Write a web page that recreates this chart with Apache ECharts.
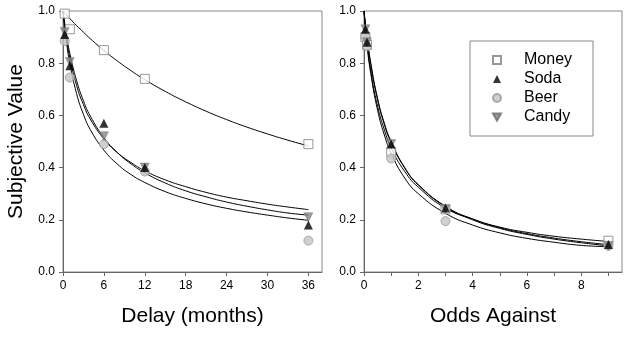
<!DOCTYPE html>
<html>
<head>
<meta charset="utf-8">
<script src="https://cdn.jsdelivr.net/npm/echarts@6/dist/echarts.min.js"></script>
<style>
  html, body { margin: 0; padding: 0; background: #fff; }
  #main { width: 629px; height: 337px; }
</style>
</head>
<body>
<div id="main"></div>
<script>
// delay panel (months) - points
var delayX = [0.25, 1, 6, 12, 36];
var delayMoney = [0.99, 0.93, 0.85, 0.74, 0.49];
var delaySoda = [0.91, 0.79, 0.57, 0.40, 0.18];
var delayBeer = [0.885, 0.745, 0.49, 0.385, 0.12];
var delayCandy = [0.92, 0.805, 0.52, 0.40, 0.21];

// delay panel - fitted curves
var delayFitX = [0, 0.5, 1, 2, 3, 4, 6, 8, 10, 12, 15, 18, 21, 24, 27, 30, 33, 36];
var delayFitMoney = [1, 0.985, 0.971, 0.944, 0.919, 0.894, 0.849, 0.808, 0.771, 0.737, 0.692, 0.652, 0.616, 0.584, 0.555, 0.529, 0.505, 0.483];
var delayFitSoda = [1, 0.897, 0.821, 0.714, 0.641, 0.586, 0.51, 0.457, 0.419, 0.388, 0.353, 0.327, 0.305, 0.287, 0.273, 0.26, 0.249, 0.239];
var delayFitCandy = [1, 0.91, 0.838, 0.733, 0.656, 0.598, 0.515, 0.457, 0.414, 0.38, 0.341, 0.311, 0.288, 0.268, 0.252, 0.238, 0.226, 0.218];
var delayFitBeer = [1, 0.884, 0.80, 0.683, 0.604, 0.546, 0.467, 0.413, 0.373, 0.343, 0.308, 0.282, 0.261, 0.244, 0.23, 0.218, 0.207, 0.198];

// odds panel - points
var oddsX = [0.05, 0.11, 1, 3, 9];
var oddsMoney = [0.90, 0.87, 0.46, 0.24, 0.12];
var oddsSoda = [0.93, 0.88, 0.49, 0.245, 0.105];
var oddsBeer = [0.90, 0.865, 0.435, 0.195, 0.10];
var oddsCandy = [0.93, 0.88, 0.49, 0.24, 0.10];

// odds panel - fitted curves
var oddsFitX = [0, 0.1, 0.25, 0.5, 0.75, 1, 1.5, 2, 3, 4, 5, 6, 7, 8, 9];
var oddsFitMoney = [1, 0.89, 0.77, 0.635, 0.545, 0.475, 0.385, 0.325, 0.245, 0.203, 0.172, 0.152, 0.137, 0.126, 0.117];
var oddsFitSoda = [1, 0.91, 0.80, 0.665, 0.57, 0.50, 0.40, 0.335, 0.252, 0.203, 0.17, 0.147, 0.13, 0.116, 0.105];
var oddsFitBeer = [1, 0.88, 0.76, 0.62, 0.525, 0.455, 0.36, 0.30, 0.225, 0.18, 0.15, 0.129, 0.114, 0.102, 0.097];
var oddsFitCandy = [1, 0.905, 0.795, 0.66, 0.565, 0.495, 0.398, 0.333, 0.25, 0.20, 0.167, 0.144, 0.126, 0.112, 0.10];

var delayTicks = [0, 6, 12, 18, 24, 30, 36];
var oddsTicks = [0, 1, 2, 3, 4, 5, 6, 7, 8, 9];
var oddsLabels = [0, 2, 4, 6, 8];

function pairs(xs, ys) {
    return xs.map(function (x, i) { return [x, ys[i]]; });
}

var font = 'Arial, "Liberation Sans", sans-serif';

var styles = {
    Money: { symbol: 'rect', size: 9, itemStyle: { color: '#ffffff', borderColor: '#808080', borderWidth: 1 } },
    Soda: { symbol: 'triangle', size: 9, itemStyle: { color: '#000000' } },
    Beer: { symbol: 'circle', size: 9, itemStyle: { color: '#c4c4c4', borderColor: '#9a9a9a', borderWidth: 1 } },
    Candy: { symbol: 'path://M0,0 L10,0 L5,9 Z', size: 9, itemStyle: { color: '#858585', borderColor: '#6a6a6a', borderWidth: 0.5 } }
};

function scatter(name, idx, xs, ys) {
    var s = styles[name];
    return {
        name: name,
        type: 'scatter',
        xAxisIndex: idx,
        yAxisIndex: idx,
        symbol: s.symbol,
        symbolSize: s.size,
        itemStyle: s.itemStyle,
        z: 5,
        data: pairs(xs, ys)
    };
}

function fit(name, idx, xs, ys) {
    return {
        name: name,
        type: 'line',
        xAxisIndex: idx,
        yAxisIndex: idx,
        showSymbol: false,
        symbol: 'none',
        smooth: 0.5,
        silent: true,
        lineStyle: { color: '#000', width: 1 },
        z: 2,
        data: pairs(xs, ys)
    };
}

function yAxis(idx, name) {
    return {
        type: 'value',
        gridIndex: idx,
        min: 0,
        max: 1,
        interval: 0.2,
        name: name,
        nameLocation: 'middle',
        nameGap: 36,
        nameTextStyle: { fontSize: 21, color: '#000', fontFamily: font },
        axisLine: { show: true, lineStyle: { color: '#666' } },
        axisTick: { show: true, length: 4, lineStyle: { color: '#666' } },
        axisLabel: {
            margin: 8, fontSize: 12, color: '#000', fontFamily: font,
            formatter: function (v) { return v.toFixed(1); }
        },
        splitLine: { show: false }
    };
}

var chart = echarts.init(document.getElementById('main'));
chart.setOption({
    backgroundColor: '#fff',
    animation: false,
    grid: [
        { left: 63, top: 11, width: 259, height: 261, show: true, borderColor: '#888', borderWidth: 1, backgroundColor: 'transparent' },
        { left: 364, top: 11, width: 258, height: 261, show: true, borderColor: '#888', borderWidth: 1, backgroundColor: 'transparent' }
    ],
    legend: {
        data: ['Money', 'Soda', 'Beer', 'Candy'],
        orient: 'vertical',
        left: 470,
        top: 41,
        padding: [11, 21, 11, 22],
        itemGap: 3,
        itemWidth: 8,
        itemHeight: 8,
        borderColor: '#888',
        borderWidth: 1,
        selectedMode: false,
        textStyle: { fontSize: 16, color: '#000', fontFamily: font, padding: [0, 0, 0, 18] }
    },
    xAxis: [
        {
            type: 'value',
            gridIndex: 0,
            min: 0,
            max: 38,
            name: 'Delay (months)',
            nameLocation: 'middle',
            nameGap: 34,
            nameTextStyle: { fontSize: 21, color: '#000', fontFamily: font },
            axisLine: { show: true, lineStyle: { color: '#666' } },
            axisTick: { show: true, length: 4, customValues: delayTicks, lineStyle: { color: '#666' } },
            axisLabel: { margin: 8, fontSize: 12, color: '#000', fontFamily: font, customValues: delayTicks },
            splitLine: { show: false }
        },
        {
            type: 'value',
            gridIndex: 1,
            min: 0,
            max: 9.5,
            name: 'Odds Against',
            nameLocation: 'middle',
            nameGap: 34,
            nameTextStyle: { fontSize: 21, color: '#000', fontFamily: font },
            axisLine: { show: true, lineStyle: { color: '#666' } },
            axisTick: { show: true, length: 4, customValues: oddsTicks, lineStyle: { color: '#666' } },
            axisLabel: { margin: 8, fontSize: 12, color: '#000', fontFamily: font, customValues: oddsLabels },
            splitLine: { show: false }
        }
    ],
    yAxis: [yAxis(0, 'Subjective Value'), yAxis(1, '')],
    series: [
        fit('Money fit', 0, delayFitX, delayFitMoney),
        fit('Soda fit', 0, delayFitX, delayFitSoda),
        fit('Candy fit', 0, delayFitX, delayFitCandy),
        fit('Beer fit', 0, delayFitX, delayFitBeer),
        fit('Money fit odds', 1, oddsFitX, oddsFitMoney),
        fit('Soda fit odds', 1, oddsFitX, oddsFitSoda),
        fit('Beer fit odds', 1, oddsFitX, oddsFitBeer),
        fit('Candy fit odds', 1, oddsFitX, oddsFitCandy),
        scatter('Money', 0, delayX, delayMoney),
        scatter('Beer', 0, delayX, delayBeer),
        scatter('Candy', 0, delayX, delayCandy),
        scatter('Soda', 0, delayX, delaySoda),
        scatter('Money', 1, oddsX, oddsMoney),
        scatter('Beer', 1, oddsX, oddsBeer),
        scatter('Candy', 1, oddsX, oddsCandy),
        scatter('Soda', 1, oddsX, oddsSoda)
    ]
});
</script>
</body>
</html>
